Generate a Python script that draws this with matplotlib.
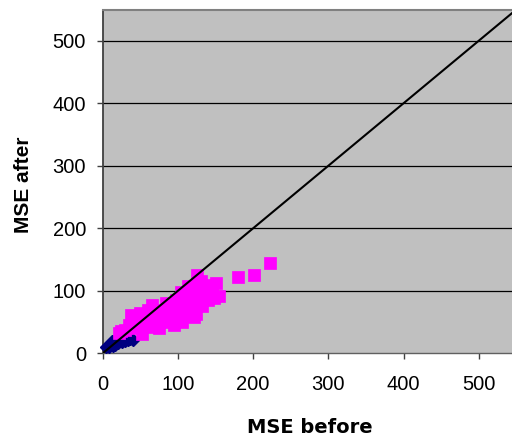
import matplotlib
matplotlib.use("Agg")
import matplotlib.pyplot as plt

# Blue series (diamonds): small MSE values
blue_before = [5, 8, 10, 12, 14, 15, 17, 18, 20, 22, 25, 28, 30, 33, 36, 40, 12, 16, 20, 24]
blue_after  = [10, 10, 13, 16, 12, 18, 14, 20, 16, 19, 18, 21, 20, 22, 23, 21, 20, 22, 24, 26]

# Pink series (squares)
pink_before = [22, 24, 30, 35, 38, 40, 45, 48, 52, 55, 58, 60, 65, 65, 70, 72, 75, 78,
               80, 84, 85, 88, 90, 92, 95, 98, 100, 103, 104, 105, 108, 110, 112, 113,
               115, 118, 120, 122, 124, 125, 125, 128, 130, 132, 135, 138, 140, 143,
               145, 148, 150, 154, 180, 201, 223,
               50, 60, 45, 70, 85, 95, 110, 118, 130, 140]
pink_after  = [32, 36, 38, 45, 61, 52, 40, 55, 31, 48, 62, 42, 77, 55, 65, 48, 41, 70,
               58, 81, 50, 68, 78, 56, 45, 85, 65, 72, 98, 50, 88, 60, 78, 107,
               95, 70, 85, 58, 63, 125, 100, 110, 90, 75, 102, 95, 85, 110,
               100, 88, 112, 92, 122, 125, 144,
               65, 70, 58, 55, 62, 70, 92, 100, 115, 100]

# Identity reference line
line_x = [0, 600]
line_y = [0, 600]

x_ticks = [0, 100, 200, 300, 400, 500]
y_ticks = [0, 100, 200, 300, 400, 500]

fig = plt.figure(figsize=(5.12, 4.41), dpi=100)
fig.patch.set_facecolor("white")
ax = fig.add_axes([102.7 / 512, (441 - 353.3) / 441, 1 - 102.7 / 512, 343.3 / 441])
ax.set_facecolor("#C0C0C0")

ax.plot(blue_before, blue_after, linestyle="none", marker="D", markersize=6,
        color="#000080", markeredgecolor="#000080", zorder=3, clip_on=False)
ax.plot(pink_before, pink_after, linestyle="none", marker="s", markersize=8,
        color="#FF00FF", markeredgecolor="#FF00FF", markeredgewidth=0.5, zorder=4)
ax.plot(line_x, line_y, color="black", linewidth=1.5, zorder=5)

ax.set_xlim(0, 544)
ax.set_ylim(0, 549)
ax.set_xticks(x_ticks)
ax.set_yticks(y_ticks)
tick_font = {"family": "Liberation Sans", "size": 14.5}
ax.set_xticklabels([str(t) for t in x_ticks], fontdict=tick_font)
ax.set_yticklabels([str(t) for t in y_ticks], fontdict=tick_font)
ax.tick_params(axis="both", direction="out", length=4.3, width=1, color="#404040")
ax.tick_params(axis="y", pad=7.7)
ax.tick_params(axis="x", pad=11)

ax.yaxis.grid(True, color="black", linewidth=0.9)
ax.set_axisbelow(True)
for gl in ax.get_ygridlines()[:1]:
    gl.set_visible(False)

ax.spines["right"].set_visible(False)
ax.spines["left"].set_color("#404040")
ax.spines["left"].set_linewidth(1.3)
ax.spines["bottom"].set_color("#606060")
ax.spines["bottom"].set_linewidth(1.0)
ax.spines["top"].set_color("#808080")
ax.spines["top"].set_linewidth(1.5)

fig.text(310 / 512, (441 - 433) / 441, "MSE before", ha="center", va="baseline",
         family="DejaVu Sans", fontweight="bold", fontsize=14)
fig.text(24 / 512, (441 - 185) / 441, "MSE after", ha="center", va="center",
         rotation=90, family="Liberation Sans", fontweight="bold", fontsize=15)

fig.savefig("out.png", dpi=100)
